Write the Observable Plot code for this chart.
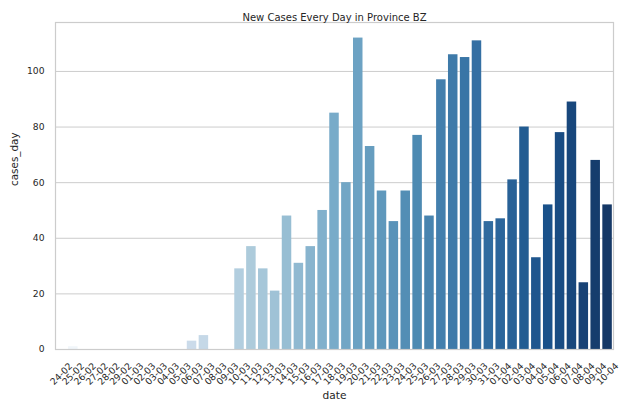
<!DOCTYPE html>
<html>
<head>
<meta charset="utf-8">
<script src="https://cdn.jsdelivr.net/npm/d3@7"></script>
<script src="https://cdn.jsdelivr.net/npm/@observablehq/plot@0.6"></script>
<style>
  html, body { margin: 0; padding: 0; background: #ffffff; }
  #chart svg { display: block; }
</style>
</head>
<body>
<div id="chart"></div>
<script>
// Daily new cases, Province BZ
const dates = [
  "24-02", "25-02", "26-02", "27-02", "28-02", "29-02",
  "01-03", "02-03", "03-03", "04-03", "05-03", "06-03", "07-03", "08-03", "09-03", "10-03",
  "11-03", "12-03", "13-03", "14-03", "15-03", "16-03", "17-03", "18-03", "19-03", "20-03",
  "21-03", "22-03", "23-03", "24-03", "25-03", "26-03", "27-03", "28-03", "29-03", "30-03", "31-03",
  "01-04", "02-04", "03-04", "04-04", "05-04", "06-04", "07-04", "08-04", "09-04", "10-04"
];
const casesDay = [
  0, 1, 0, 0, 0, 0,
  0, 0, 0, 0, 0, 3, 5, 0, 0, 29,
  37, 29, 21, 48, 31, 37, 50, 85, 60, 112,
  73, 57, 46, 57, 77, 48, 97, 106, 105, 111, 46,
  47, 61, 80, 33, 52, 78, 89, 24, 68, 52
];
const yTicks = [0, 20, 40, 60, 80, 100];

const rows = dates.map((date, i) => ({date, cases_day: casesDay[i]}));

// "Blues" sequential palette, sampled away from both ends and softened (75% saturation)
const bluesStops = ["#f7fbff", "#deebf7", "#c6dbef", "#9ecae1", "#6baed6", "#4292c6", "#2171b5", "#08519c", "#08306b"];
const blues = d3.piecewise(d3.interpolateRgb, bluesStops);
const palette = dates.map((_, i) => {
  const c = d3.hsl(blues((i + 1) / (dates.length + 1)));
  c.s *= 0.75;
  return c.formatHex();
});

const ink = "#262626";
const gridColor = "#cccccc";
const yMax = d3.max(casesDay) * 1.05;

const chart = Plot.plot({
  width: 628,
  height: 412,
  marginLeft: 55,
  marginRight: 15,
  marginTop: 22,
  marginBottom: 63,
  style: {fontFamily: "DejaVu Sans", fontSize: "9.2px", color: ink, background: "#ffffff"},
  x: {type: "band", domain: dates, paddingInner: 0.2, paddingOuter: 0.1, axis: null},
  y: {domain: [0, yMax], ticks: yTicks, axis: null},
  color: {type: "ordinal", domain: dates, range: palette},
  marks: [
    Plot.gridY(yTicks, {stroke: gridColor, strokeOpacity: 1, strokeWidth: 1}),
    Plot.barY(rows, {x: "date", y: "cases_day", fill: "date"}),
    Plot.frame({stroke: gridColor, strokeWidth: 1.2}),
    Plot.axisY(yTicks, {tickSize: 0, tickPadding: 11, fill: ink, fontSize: 9.2, label: null}),
    Plot.text(dates, {
      x: d => d, frameAnchor: "bottom", dy: 24.5, rotate: -45,
      textAnchor: "middle", lineAnchor: "middle", fill: ink, fontSize: 9.2
    }),
    Plot.text(["date"], {frameAnchor: "bottom", dy: 49, fill: ink, fontSize: 10.6}),
    Plot.text(["cases_day"], {frameAnchor: "left", dx: -41, rotate: -90, fill: ink, fontSize: 10.4}),
    Plot.text(["New Cases Every Day in Province BZ"], {frameAnchor: "top", dy: -9, fill: ink, fontSize: 10})
  ]
});

document.getElementById("chart").appendChild(chart);
</script>
</body>
</html>
